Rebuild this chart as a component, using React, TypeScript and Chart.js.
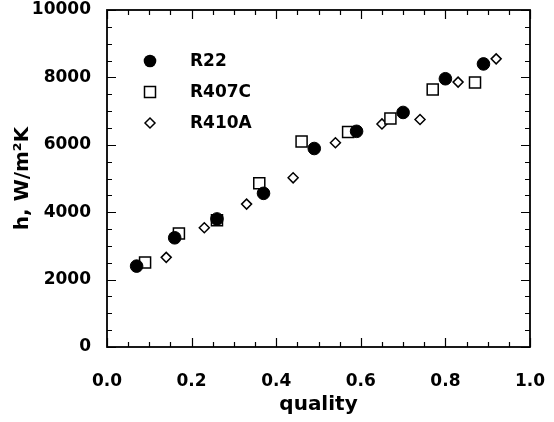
import { useEffect, useRef } from 'react';
import { Chart, registerables } from 'chart.js';

Chart.register(...registerables);

// Data
const r22Quality = [0.07, 0.16, 0.26, 0.37, 0.49, 0.59, 0.70, 0.80, 0.89];
const r22H = [2400, 3240, 3800, 4560, 5890, 6400, 6960, 7960, 8400];

const r407cQuality = [0.09, 0.17, 0.26, 0.36, 0.46, 0.57, 0.67, 0.77, 0.87];
const r407cH = [2510, 3370, 3760, 4860, 6100, 6380, 6780, 7640, 7850];

const r410aQuality = [0.14, 0.23, 0.33, 0.44, 0.54, 0.65, 0.74, 0.83, 0.92];
const r410aH = [2660, 3540, 4240, 5020, 6060, 6620, 6750, 7860, 8550];

const seriesNames = ['R22', 'R407C', 'R410A'];

const xMajorTicks = [0, 0.2, 0.4, 0.6, 0.8, 1.0];
const xMinorTicks = [0.05, 0.1, 0.15, 0.25, 0.3, 0.35, 0.45, 0.5, 0.55, 0.65, 0.7, 0.75, 0.85, 0.9, 0.95];
const yMajorTicks = [0, 2000, 4000, 6000, 8000, 10000];
const yMinorTicks = [500, 1000, 1500, 2500, 3000, 3500, 4500, 5000, 5500, 6500, 7000, 7500, 8500, 9000, 9500];

const FONT = "'DejaVu Sans', 'Liberation Sans', sans-serif";

const toPoints = (xs: number[], ys: number[]) => xs.map((x, i) => ({ x, y: ys[i] }));

const frameTicksPlugin = {
  id: 'frameTicks',
  afterDatasetsDraw(chart: any) {
    const { ctx, chartArea, scales } = chart;
    const { left, right, top, bottom } = chartArea;
    const xs = scales.x;
    const ys = scales.y;
    ctx.save();
    ctx.strokeStyle = '#000';
    ctx.lineWidth = 1.2;
    const majorLen = 9;
    const minorLen = 5;
    ctx.beginPath();
    const vTick = (v: number, len: number) => {
      const px = Math.round(xs.getPixelForValue(v)) + 0.5;
      ctx.moveTo(px, bottom);
      ctx.lineTo(px, bottom - len);
      ctx.moveTo(px, top);
      ctx.lineTo(px, top + len);
    };
    const hTick = (v: number, len: number) => {
      const py = Math.round(ys.getPixelForValue(v)) + 0.5;
      ctx.moveTo(left, py);
      ctx.lineTo(left + len, py);
      ctx.moveTo(right, py);
      ctx.lineTo(right - len, py);
    };
    xMajorTicks.forEach((v) => vTick(v, majorLen));
    xMinorTicks.forEach((v) => vTick(v, minorLen));
    yMajorTicks.forEach((v) => hTick(v, majorLen));
    yMinorTicks.forEach((v) => hTick(v, minorLen));
    ctx.stroke();
    ctx.lineWidth = 1.8;
    ctx.strokeRect(left, top, right - left, bottom - top);
    ctx.restore();
  },
};

const legendPlugin = {
  id: 'insideLegend',
  afterDraw(chart: any) {
    const { ctx } = chart;
    const mx = 150;
    const tx = 190;
    const rows = [61, 92, 123];
    ctx.save();
    ctx.strokeStyle = '#000';
    ctx.lineWidth = 1.5;
    ctx.fillStyle = '#000';
    ctx.beginPath();
    ctx.arc(mx, rows[0], 6.3, 0, Math.PI * 2);
    ctx.fill();
    ctx.fillStyle = '#fff';
    ctx.beginPath();
    ctx.rect(mx - 5.5, rows[1] - 5.5, 11, 11);
    ctx.fill();
    ctx.stroke();
    ctx.beginPath();
    ctx.moveTo(mx - 5, rows[2]);
    ctx.lineTo(mx, rows[2] - 5);
    ctx.lineTo(mx + 5, rows[2]);
    ctx.lineTo(mx, rows[2] + 5);
    ctx.closePath();
    ctx.fill();
    ctx.stroke();
    ctx.fillStyle = '#000';
    ctx.font = `bold 17px ${FONT}`;
    ctx.textAlign = 'left';
    ctx.textBaseline = 'middle';
    seriesNames.forEach((name, i) => ctx.fillText(name, tx, rows[i] + 1));
    ctx.restore();
  },
};

export default function App() {
  const canvasRef = useRef<HTMLCanvasElement | null>(null);

  useEffect(() => {
    if (!canvasRef.current) return;
    const chart = new Chart(canvasRef.current, {
      type: 'scatter',
      data: {
        datasets: [
          {
            label: seriesNames[0],
            data: toPoints(r22Quality, r22H),
            pointStyle: 'circle',
            pointRadius: 6.3,
            backgroundColor: '#000',
            borderColor: '#000',
            borderWidth: 1,
          },
          {
            label: seriesNames[1],
            data: toPoints(r407cQuality, r407cH),
            pointStyle: 'rect',
            pointRadius: 7.8,
            backgroundColor: '#fff',
            borderColor: '#000',
            borderWidth: 1.5,
          },
          {
            label: seriesNames[2],
            data: toPoints(r410aQuality, r410aH),
            pointStyle: 'rectRot',
            pointRadius: 5,
            backgroundColor: '#fff',
            borderColor: '#000',
            borderWidth: 1.5,
          },
        ],
      },
      options: {
        animation: false,
        responsive: true,
        maintainAspectRatio: false,
        layout: { padding: { left: 0, right: 24, top: 10, bottom: 0 } },
        plugins: {
          legend: { display: false },
          tooltip: { enabled: false },
        },
        scales: {
          x: {
            type: 'linear',
            min: 0,
            max: 1,
            grid: { display: false, drawTicks: false },
            border: { display: false },
            afterBuildTicks: (scale: any) => {
              scale.ticks = xMajorTicks.map((v) => ({ value: v }));
            },
            afterFit: (scale: any) => {
              scale.height = 75;
              scale.paddingLeft = 0;
              scale.paddingRight = 0;
            },
            ticks: {
              color: '#000',
              padding: 24,
              maxRotation: 0,
              font: { family: FONT, size: 17, weight: 'bold' },
              callback: (v: any) => Number(v).toFixed(1),
            },
            title: {
              display: true,
              text: 'quality',
              color: '#000',
              padding: { top: 0, bottom: 5 },
              font: { family: FONT, size: 20, weight: 'bold' },
            },
          },
          y: {
            type: 'linear',
            min: 0,
            max: 10000,
            grid: { display: false, drawTicks: false },
            border: { display: false },
            afterBuildTicks: (scale: any) => {
              scale.ticks = yMajorTicks.map((v) => ({ value: v }));
            },
            afterFit: (scale: any) => {
              scale.width = 107;
              scale.paddingTop = 0;
              scale.paddingBottom = 0;
            },
            ticks: {
              color: '#000',
              padding: 16,
              font: { family: FONT, size: 17, weight: 'bold' },
              callback: (v: any) => String(v),
            },
            title: {
              display: true,
              text: 'h, W/m²K',
              color: '#000',
              padding: { top: 10.5, bottom: 0 },
              font: { family: FONT, size: 20, weight: 'bold' },
            },
          },
        },
      },
      plugins: [frameTicksPlugin, legendPlugin],
    } as any);
    return () => chart.destroy();
  }, []);

  return (
    <div style={{ position: 'absolute', left: 0, top: 0, width: 554, height: 422, background: '#fff' }}>
      <canvas ref={canvasRef} />
    </div>
  );
}
